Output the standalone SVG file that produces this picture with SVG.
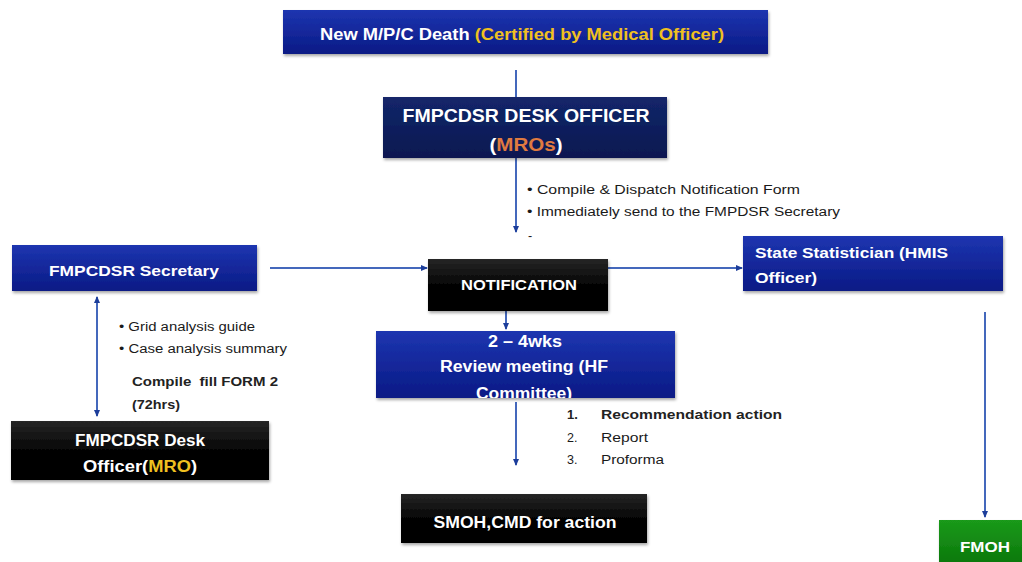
<svg xmlns="http://www.w3.org/2000/svg" width="1022" height="562" viewBox="0 0 1022 562">
  <defs>
    <linearGradient id="gBlue" x1="0" y1="0" x2="0" y2="1">
      <stop offset="0" stop-color="#1d35b0"/>
      <stop offset="1" stop-color="#0a1a85"/>
    </linearGradient>
    <linearGradient id="gNavy" x1="0" y1="0" x2="0" y2="1">
      <stop offset="0" stop-color="#13266a"/>
      <stop offset="1" stop-color="#0a1850"/>
    </linearGradient>
    <linearGradient id="gBlack" x1="0" y1="0" x2="0" y2="1">
      <stop offset="0" stop-color="#262626"/>
      <stop offset="0.5" stop-color="#050505"/>
      <stop offset="1" stop-color="#000000"/>
    </linearGradient>
    <linearGradient id="gGreen" x1="0" y1="0" x2="0" y2="1">
      <stop offset="0" stop-color="#1a9a1a"/>
      <stop offset="1" stop-color="#0b760b"/>
    </linearGradient>
    <filter id="shadow" x="-5%" y="-10%" width="110%" height="130%">
      <feDropShadow dx="1" dy="2" stdDeviation="1.5" flood-color="#000" flood-opacity="0.35"/>
    </filter>
    <clipPath id="clipReview">
      <rect x="376" y="331" width="299" height="67"/>
    </clipPath>
    <marker id="arrow" markerWidth="8" markerHeight="8" refX="6" refY="4" orient="auto" markerUnits="userSpaceOnUse">
      <path d="M0,1 L7,4 L0,7 Z" fill="#1c3d9a"/>
    </marker>
    <marker id="arrowStart" markerWidth="8" markerHeight="8" refX="1" refY="4" orient="auto" markerUnits="userSpaceOnUse">
      <path d="M7,1 L0,4 L7,7 Z" fill="#1c3d9a"/>
    </marker>
    <style>
      .box { filter: url(#shadow); }
      .t { font-family: "Liberation Sans", Arial, sans-serif; font-weight: bold; fill: #ffffff; }
      .y { fill: #f0c020; }
      .o { fill: #e07a40; }
      .note { font-family: "Liberation Sans", Arial, sans-serif; font-size: 12.5px; fill: #1a1a1a; }
      .noteb { font-family: "Liberation Sans", Arial, sans-serif; font-size: 13px; font-weight: bold; fill: #222; }
      .link { stroke: #4468bc; stroke-width: 2; fill: none; }
    </style>
  </defs>

  <rect width="1022" height="562" fill="#ffffff"/>

  <!-- connectors -->
  <g id="connectors">
    <line class="link" x1="516" y1="70" x2="516" y2="97"/>
    <line class="link" x1="516" y1="158" x2="516" y2="232" marker-end="url(#arrow)"/>
    <line class="link" x1="270" y1="268" x2="427" y2="268" marker-end="url(#arrow)"/>
    <line class="link" x1="608" y1="268" x2="742" y2="268" marker-end="url(#arrow)"/>
    <line class="link" x1="506" y1="305" x2="506" y2="329" marker-end="url(#arrow)"/>
    <line class="link" x1="97" y1="297" x2="97" y2="416" marker-start="url(#arrowStart)" marker-end="url(#arrow)"/>
    <line class="link" x1="516" y1="402" x2="516" y2="465" marker-end="url(#arrow)"/>
    <line class="link" x1="985" y1="312" x2="985" y2="517" marker-end="url(#arrow)"/>
  </g>

  <!-- new death notification -->
  <g id="node-new-death">
    <rect class="box" x="283" y="10" width="485" height="44" fill="url(#gBlue)"/>
    <text class="t" x="522" y="40" font-size="16" text-anchor="middle" textLength="404" lengthAdjust="spacingAndGlyphs">New M/P/C Death <tspan class="y">(Certified by Medical Officer)</tspan></text>
  </g>

  <!-- desk officer (MROs) -->
  <g id="node-desk-officer">
    <rect class="box" x="383" y="97" width="284" height="61" fill="url(#gNavy)"/>
    <text class="t" x="526" y="122" font-size="19" text-anchor="middle" textLength="247" lengthAdjust="spacingAndGlyphs">FMPCDSR DESK OFFICER</text>
    <text class="t" x="526" y="151" font-size="19" text-anchor="middle" textLength="73" lengthAdjust="spacingAndGlyphs">(<tspan class="o">MROs</tspan>)</text>
  </g>

  <g id="notes-dispatch">
    <text class="note" x="527" y="194" textLength="273" lengthAdjust="spacingAndGlyphs">• Compile &amp; Dispatch Notification Form</text>
    <text class="note" x="527" y="216" textLength="313" lengthAdjust="spacingAndGlyphs">• Immediately send to the FMPDSR Secretary</text>
    <text class="note" x="528" y="240">-</text>
  </g>

  <!-- secretary -->
  <g id="node-secretary">
    <rect class="box" x="12" y="245" width="245" height="46" fill="url(#gBlue)"/>
    <text class="t" x="134" y="276" font-size="15" text-anchor="middle" textLength="170" lengthAdjust="spacingAndGlyphs">FMPCDSR Secretary</text>
  </g>

  <!-- notification -->
  <g id="node-notification">
    <rect class="box" x="428" y="259" width="180" height="52" fill="url(#gBlack)"/>
    <text class="t" x="519" y="290" font-size="15" text-anchor="middle" textLength="116" lengthAdjust="spacingAndGlyphs">NOTIFICATION</text>
  </g>

  <!-- state statistician -->
  <g id="node-statistician">
    <rect class="box" x="743" y="236" width="260" height="55" fill="url(#gBlue)"/>
    <text class="t" x="755" y="258" font-size="15" textLength="193" lengthAdjust="spacingAndGlyphs">State Statistician (HMIS</text>
    <text class="t" x="755" y="283" font-size="15" textLength="62" lengthAdjust="spacingAndGlyphs">Officer)</text>
  </g>

  <!-- review meeting -->
  <g id="node-review">
    <rect class="box" x="376" y="331" width="299" height="67" fill="url(#gBlue)"/>
    <g clip-path="url(#clipReview)">
      <text class="t" x="525" y="347" font-size="16" text-anchor="middle" textLength="74" lengthAdjust="spacingAndGlyphs">2 – 4wks</text>
      <text class="t" x="524" y="372" font-size="16" text-anchor="middle" textLength="168" lengthAdjust="spacingAndGlyphs">Review meeting (HF</text>
      <text class="t" x="524" y="399" font-size="16" text-anchor="middle" textLength="96" lengthAdjust="spacingAndGlyphs">Committee)</text>
    </g>
  </g>

  <g id="notes-analysis">
    <text class="note" x="119" y="331" textLength="136" lengthAdjust="spacingAndGlyphs">• Grid analysis guide</text>
    <text class="note" x="119" y="353" textLength="168" lengthAdjust="spacingAndGlyphs">• Case analysis summary</text>
    <text class="noteb" x="132" y="386" textLength="146" lengthAdjust="spacingAndGlyphs">Compile&#160; fill FORM 2</text>
    <text class="noteb" x="132" y="409" textLength="48" lengthAdjust="spacingAndGlyphs">(72hrs)</text>
  </g>

  <g id="notes-outputs">
    <text class="noteb" x="567" y="419">1.</text>
    <text class="noteb" x="601" y="419" textLength="181" lengthAdjust="spacingAndGlyphs">Recommendation action</text>
    <text class="note" x="567" y="442">2.</text>
    <text class="note" x="601" y="442" textLength="47" lengthAdjust="spacingAndGlyphs">Report</text>
    <text class="note" x="567" y="464">3.</text>
    <text class="note" x="601" y="464" textLength="63" lengthAdjust="spacingAndGlyphs">Proforma</text>
  </g>

  <!-- desk officer (MRO) -->
  <g id="node-desk-mro">
    <rect class="box" x="11" y="421" width="258" height="59" fill="url(#gBlack)"/>
    <text class="t" x="140" y="446" font-size="16" text-anchor="middle" textLength="130" lengthAdjust="spacingAndGlyphs">FMPCDSR Desk</text>
    <text class="t" x="140" y="472" font-size="16" text-anchor="middle" textLength="114" lengthAdjust="spacingAndGlyphs">Officer(<tspan class="y">MRO</tspan>)</text>
  </g>

  <!-- SMOH, CMD -->
  <g id="node-smoh">
    <rect class="box" x="401" y="494" width="246" height="49" fill="url(#gBlack)"/>
    <text class="t" x="525" y="528" font-size="17" text-anchor="middle" textLength="183" lengthAdjust="spacingAndGlyphs">SMOH,CMD for action</text>
  </g>

  <!-- FMOH -->
  <g id="node-fmoh">
    <rect class="box" x="939" y="520" width="90" height="46" fill="url(#gGreen)"/>
    <text class="t" x="985" y="552" font-size="15" text-anchor="middle" textLength="50" lengthAdjust="spacingAndGlyphs">FMOH</text>
  </g>
</svg>
